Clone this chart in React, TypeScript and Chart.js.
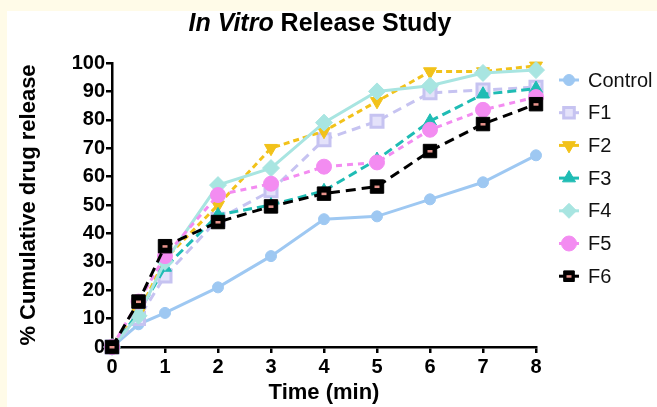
import React, { useEffect, useRef } from "react";
import { Chart, registerables } from "chart.js";

Chart.register(...registerables);

const times = [0, 0.5, 1, 2, 3, 4, 5, 6, 7, 8];
const controlValues = [0, 8, 12, 21, 32, 45, 46, 52, 58, 67.5];
const f1Values = [0, 10, 25, 45, 55, 73, 79.5, 89.5, 90.5, 91.5];
const f2Values = [0, 12, 31, 50, 70, 76, 86.5, 97, 97, 99];
const f3Values = [0, 12, 28, 46.5, 50, 55, 66, 79.5, 89, 91];
const f4Values = [0, 11, 30, 57, 63, 79, 90, 92, 96.5, 97.5];
const f5Values = [0, 16, 32, 53.5, 57.5, 63.5, 65, 76.5, 83.5, 88];
const f6Values = [0, 16, 35.5, 44, 49.5, 54, 56.5, 69, 78.5, 85.5];
const seriesNames = ["Control", "F1", "F2", "F3", "F4", "F5", "F6"];
const yTicks = [0, 10, 20, 30, 40, 50, 60, 70, 80, 90, 100];
const xTicks = [0, 1, 2, 3, 4, 5, 6, 7, 8];

const FONT = "'Liberation Sans', Arial, Helvetica, sans-serif";

type Style = {
  color: string;
  fill: string;
  point: string;
  rotation: number;
  radius: number;
  dash: number[];
  borderWidth: number;
};

const styles: Style[] = [
  { color: "#9ec8f2", fill: "#9ec8f2", point: "circle", rotation: 0, radius: 5.5, dash: [], borderWidth: 1 },
  { color: "#c6c3f1", fill: "#e4e2fa", point: "rect", rotation: 0, radius: 8.5, dash: [9, 6], borderWidth: 3 },
  { color: "#f2c21a", fill: "#f2c21a", point: "triangle", rotation: 180, radius: 7.5, dash: [6, 4], borderWidth: 1 },
  { color: "#1fbcb4", fill: "#1fbcb4", point: "triangle", rotation: 0, radius: 7.5, dash: [9, 5], borderWidth: 1 },
  { color: "#a8e5e1", fill: "#a8e5e1", point: "rectRot", rotation: 0, radius: 8.5, dash: [], borderWidth: 1 },
  { color: "#f38cf1", fill: "#f38cf1", point: "circle", rotation: 0, radius: 7.5, dash: [6, 5], borderWidth: 1 },
  { color: "#000000", fill: "#000000", point: "rect", rotation: 0, radius: 9.5, dash: [10, 6], borderWidth: 1 },
];

const allValues = [controlValues, f1Values, f2Values, f3Values, f4Values, f5Values, f6Values];

function drawMarker(ctx: CanvasRenderingContext2D, st: Style, x: number, y: number) {
  ctx.save();
  ctx.fillStyle = st.fill;
  ctx.strokeStyle = st.color;
  ctx.lineWidth = st.borderWidth;
  ctx.setLineDash([]);
  ctx.beginPath();
  const r = st.radius;
  if (st.point === "circle") {
    ctx.arc(x, y, r, 0, Math.PI * 2);
  } else if (st.point === "rect") {
    const s = Math.SQRT1_2 * r;
    ctx.rect(x - s, y - s, 2 * s, 2 * s);
  } else if (st.point === "rectRot") {
    ctx.moveTo(x, y - r);
    ctx.lineTo(x + r, y);
    ctx.lineTo(x, y + r);
    ctx.lineTo(x - r, y);
    ctx.closePath();
  } else if (st.point === "triangle") {
    const rad = (st.rotation * Math.PI) / 180;
    for (let k = 0; k < 3; k++) {
      const a = rad + (k * 2 * Math.PI) / 3;
      const px = x + Math.sin(a) * r;
      const py = y - Math.cos(a) * r;
      if (k === 0) ctx.moveTo(px, py);
      else ctx.lineTo(px, py);
    }
    ctx.closePath();
  }
  ctx.fill();
  ctx.stroke();
  ctx.restore();
}

const decorPlugin = {
  id: "decor",
  afterDatasetsDraw(chart: any) {
    const ctx: CanvasRenderingContext2D = chart.ctx;
    const meta = chart.getDatasetMeta(6);
    ctx.save();
    ctx.fillStyle = "#e8948c";
    meta.data.forEach((pt: any) => {
      ctx.fillRect(pt.x - 2.5, pt.y - 1, 5, 2.5);
    });
    ctx.restore();
  },
  afterDraw(chart: any) {
    const ctx: CanvasRenderingContext2D = chart.ctx;
    ctx.save();
    // Title
    const part1 = "In Vitro";
    const part2 = " Release Study";
    const f1 = `italic bold 25px ${FONT}`;
    const f2 = `bold 25px ${FONT}`;
    ctx.font = f1;
    const w1 = ctx.measureText(part1).width;
    ctx.font = f2;
    const w2 = ctx.measureText(part2).width;
    const cx = 320;
    const x0 = cx - (w1 + w2) / 2;
    ctx.fillStyle = "#000";
    ctx.textBaseline = "middle";
    ctx.textAlign = "left";
    ctx.font = f1;
    ctx.fillText(part1, x0, 24);
    ctx.font = f2;
    ctx.fillText(part2, x0 + w1, 24);

    // Legend
    const lx = 569;
    const ly0 = 80;
    const step = 32.7;
    seriesNames.forEach((name, i) => {
      const st = styles[i];
      const y = ly0 + i * step;
      ctx.save();
      ctx.strokeStyle = st.color;
      ctx.lineWidth = 3;
      ctx.beginPath();
      ctx.moveTo(lx - 10, y);
      ctx.lineTo(lx + 10, y);
      ctx.stroke();
      ctx.restore();
      drawMarker(ctx, { ...st, radius: Math.min(st.radius, 7.5) }, lx, y);
      if (i === 6) {
        ctx.fillStyle = "#e8948c";
        ctx.fillRect(lx - 2.5, y - 1, 5, 2.5);
      }
      ctx.fillStyle = "#111";
      ctx.font = `20px ${FONT}`;
      ctx.textAlign = "left";
      ctx.textBaseline = "middle";
      ctx.fillText(name, 588, y + 1);
    });
    ctx.restore();
  },
};

export default function App() {
  const ref = useRef<HTMLCanvasElement | null>(null);

  useEffect(() => {
    if (!ref.current) return;
    const order = [6, 5, 4, 3, 2, 1, 0];
    const datasets = allValues.map((vals, i) => {
      const st = styles[i];
      return {
        label: seriesNames[i],
        data: times.map((t, j) => ({ x: t, y: vals[j] })),
        borderColor: st.color,
        backgroundColor: st.fill,
        borderWidth: 3,
        borderDash: st.dash,
        pointStyle: st.point,
        pointRotation: st.rotation,
        pointRadius: st.radius,
        pointBorderWidth: st.borderWidth,
        pointBorderColor: st.color,
        pointBackgroundColor: st.fill,
        tension: 0,
        clip: false as any,
        order: order[i],
      };
    });

    const chart = new Chart(ref.current, {
      type: "line",
      data: { datasets },
      options: {
        animation: false,
        responsive: false,
        maintainAspectRatio: false,
        layout: { padding: { left: 0, top: 63, right: 121, bottom: 0 } },
        plugins: {
          legend: { display: false },
          title: { display: false },
          tooltip: { enabled: false },
        },
        scales: {
          x: {
            type: "linear",
            min: 0,
            max: 8,
            afterBuildTicks: (s: any) => {
              s.ticks = xTicks.map((v) => ({ value: v }));
            },
            afterFit: (s: any) => {
              s.height = 60;
            },
            ticks: {
              color: "#000",
              font: { family: FONT, size: 20, weight: "bold" },
              padding: 2,
              maxRotation: 0,
              autoSkip: false,
            },
            grid: {
              drawOnChartArea: false,
              drawTicks: true,
              tickLength: 6,
              color: "#000",
              lineWidth: 2.5,
            },
            border: { display: true, color: "#000", width: 2.5 },
            title: {
              display: true,
              text: "Time (min)",
              color: "#000",
              font: { family: FONT, size: 22, weight: "bold" },
              padding: { top: 0, bottom: 1 },
            },
          },
          y: {
            type: "linear",
            min: 0,
            max: 100,
            afterBuildTicks: (s: any) => {
              s.ticks = yTicks.map((v) => ({ value: v }));
            },
            afterFit: (s: any) => {
              s.width = 112;
            },
            ticks: {
              color: "#000",
              font: { family: FONT, size: 20, weight: "bold" },
              padding: 1,
              autoSkip: false,
            },
            grid: {
              drawOnChartArea: false,
              drawTicks: true,
              tickLength: 6,
              color: "#000",
              lineWidth: 2.5,
            },
            border: { display: true, color: "#000", width: 2.5 },
            title: {
              display: true,
              text: "% Cumulative drug release",
              color: "#000",
              font: { family: FONT, size: 22, weight: "bold" },
              padding: { top: 16, bottom: 0 },
            },
          },
        },
      },
      plugins: [decorPlugin],
    });
    return () => chart.destroy();
  }, []);

  return (
    <div
      style={{
        position: "fixed",
        left: 0,
        top: 0,
        width: 657,
        height: 407,
        background: "#fffbe8",
        overflow: "hidden",
      }}
    >
      <div
        style={{
          position: "absolute",
          left: 7,
          top: 11,
          right: 0,
          bottom: 0,
          background: "#ffffff",
        }}
      />
      <canvas
        ref={ref}
        width={657}
        height={407}
        style={{ position: "absolute", left: 0, top: 0, width: 657, height: 407 }}
      />
    </div>
  );
}
